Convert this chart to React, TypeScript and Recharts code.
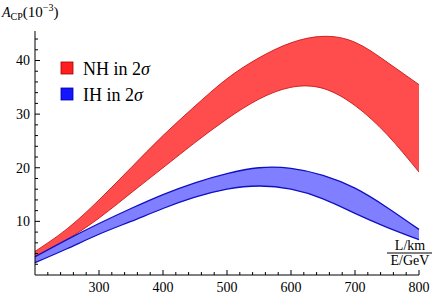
import * as React from 'react';
import { ComposedChart, Area, XAxis, YAxis, Customized } from 'recharts';

// L/E values (km/GeV)
const lOverE = [200, 250, 300, 350, 400, 450, 500, 550, 600, 650, 700, 750, 800];
// A_CP band edges (10^-3)
const nhLow = [3.2, 6.6, 10.6, 15.3, 20.0, 24.7, 29.1, 32.8, 35.0, 34.8, 31.6, 26.2, 19.2];
const nhHigh = [4.4, 8.6, 14.0, 20.0, 26.0, 31.5, 36.6, 40.5, 43.3, 44.5, 43.4, 39.7, 35.5];
const ihLow = [2.3, 4.9, 7.6, 10.0, 12.4, 14.5, 16.0, 16.6, 16.0, 14.2, 11.5, 8.9, 6.6];
const ihHigh = [3.4, 6.6, 9.6, 12.4, 15.0, 17.2, 18.9, 20.0, 19.9, 18.6, 16.2, 12.6, 8.5];

const xTicks = Array.from({ length: 30 }, (_, i) => 220 + i * 20);
const yTicks = Array.from({ length: 22 }, (_, i) => 2 + i * 2);
const xLabels = [300, 400, 500, 600, 700, 800];
const yLabels = [10, 20, 30, 40];

const serif = '"Liberation Serif", "DejaVu Serif", serif';

const data = lOverE.map((x, i) => ({
    x,
    nh: [nhLow[i], nhHigh[i]],
    ih: [ihLow[i], ihHigh[i]],
}));

const XTick = (props: any) => {
    const { x, y, payload } = props;
    const major = xLabels.includes(payload.value);
    return (
        <g>
            <line x1={x} x2={x} y1={y} y2={y - (major ? 5 : 3)} stroke="#000" strokeWidth={1} />
            {major && (
                <text x={x} y={y + 17} textAnchor="middle" fontFamily={serif} fontSize={14} fill="#000">
                    {payload.value}
                </text>
            )}
        </g>
    );
};

const YTick = (props: any) => {
    const { x, y, payload } = props;
    const major = yLabels.includes(payload.value);
    return (
        <g>
            <line x1={x} x2={x + (major ? 5 : 3)} y1={y} y2={y} stroke="#000" strokeWidth={1} />
            {major && (
                <text x={x - 5} y={y + 5} textAnchor="end" fontFamily={serif} fontSize={14} fill="#000">
                    {payload.value}
                </text>
            )}
        </g>
    );
};

const Labels = () => (
    <g fontFamily={serif} fill="#000">
        <text x={2} y={17} fontSize={14}>
            <tspan fontStyle="italic">A</tspan>
            <tspan fontSize={10} dy={3}>CP</tspan>
            <tspan fontSize={15} dy={-3}>(10</tspan>
            <tspan fontSize={10} dy={-6}>−3</tspan>
            <tspan fontSize={15} dy={6}>)</tspan>
        </text>
        <rect x={61} y={62} width={12} height={12} fill="#ff1f1f" stroke="#a00000" strokeWidth={0.8} />
        <text x={83} y={75} fontSize={18}>
            NH in 2<tspan fontStyle="italic">σ</tspan>
        </text>
        <rect x={61} y={88} width={12} height={12} fill="#1515ff" stroke="#0000a0" strokeWidth={0.8} />
        <text x={83} y={101} fontSize={18}>
            IH in 2<tspan fontStyle="italic">σ</tspan>
        </text>
        <rect x={386} y={241} width={48} height={25} fill="#fff" />
        <text x={410} y={250} fontSize={14} textAnchor="middle">L/km</text>
        <line x1={387} x2={432} y1={253} y2={253} stroke="#000" strokeWidth={1} />
        <text x={410} y={265} fontSize={14} textAnchor="middle">E/GeV</text>
    </g>
);

export default function App() {
    return (
        <div style={{ position: 'absolute', left: 0, top: 0, background: '#fff' }}>
            <ComposedChart width={435} height={297} data={data} margin={{ top: 31, right: 16, bottom: 0, left: 0 }}>
                <XAxis
                    dataKey="x"
                    type="number"
                    domain={[200, 800]}
                    ticks={xTicks}
                    interval={0}
                    height={22}
                    tickSize={0}
                    tickMargin={0}
                    tick={<XTick />}
                    axisLine={{ stroke: '#000', strokeWidth: 1 }}
                    tickLine={false}
                />
                <YAxis
                    type="number"
                    domain={[0, 45.5]}
                    ticks={yTicks}
                    interval={0}
                    width={35}
                    tickSize={0}
                    tickMargin={0}
                    tick={<YTick />}
                    axisLine={{ stroke: '#000', strokeWidth: 1 }}
                    tickLine={false}
                    allowDataOverflow
                />
                <Area
                    dataKey="nh"
                    type="natural"
                    fill="#ff4d4d"
                    fillOpacity={1}
                    stroke="#c81818"
                    strokeWidth={0.9}
                    isAnimationActive={false}
                    dot={false}
                    activeDot={false}
                />
                <Area
                    dataKey="ih"
                    type="natural"
                    fill="#7f7fff"
                    fillOpacity={1}
                    stroke="#1010c0"
                    strokeWidth={1.3}
                    isAnimationActive={false}
                    dot={false}
                    activeDot={false}
                />
                <Customized component={<Labels />} />
            </ComposedChart>
        </div>
    );
}
